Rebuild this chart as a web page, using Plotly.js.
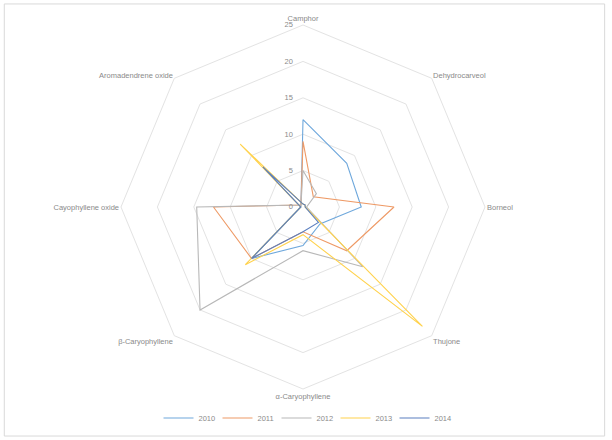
<!DOCTYPE html>
<html>
<head>
<meta charset="utf-8">
<script src="https://cdn.plot.ly/plotly-3.0.1.min.js"></script>
<style>
  html, body { margin: 0; padding: 0; background: #fff; }
  #chart { width: 612px; height: 440px; }
</style>
</head>
<body>
<div id="chart"></div>
<script>
const compounds = [
  "Camphor", "Dehydrocarveol", "Borneol", "Thujone",
  "α-Caryophyllene", "β-Caryophyllene", "Cayophyllene oxide", "Aromadendrene oxide"
];

const years = ["2010", "2011", "2012", "2013", "2014"];

const values2010 = [12, 8.5, 8, 3.3, 5.3, 10, 0.3, 0.4];
const values2011 = [9, 2, 12.5, 8.5, 3.4, 10, 12.3, 0.4];
const values2012 = [5, 2.6, 0.5, 11.6, 6, 20, 14.6, 0.4];
const values2013 = [0.4, 0.4, 0.3, 23.2, 3.8, 11.2, 0.3, 12.2];
const values2014 = [0.4, 0.4, 0.3, 3, 3.4, 10, 0.3, 7.8];

const radialTicks = [0, 5, 10, 15, 20, 25];

const seriesColors = ["#6fa8dc", "#ee9a66", "#b8b8b8", "#ffd24d", "#5b7fbf"];

const textColor = "#8a8a8a";
const gridColor = "#e3e3e3";

const allValues = [values2010, values2011, values2012, values2013, values2014];

const traces = allValues.map((vals, i) => ({
  type: "scatterpolar",
  mode: "lines",
  name: years[i],
  r: vals.concat([vals[0]]),
  theta: compounds.concat([compounds[0]]),
  line: { color: seriesColors[i], width: 1.1 },
  hoverinfo: "skip"
}));

const layout = {
  width: 612,
  height: 440,
  margin: { t: 0, r: 0, b: 0, l: 0 },
  paper_bgcolor: "#fff",
  font: { family: "Liberation Sans, Arial, sans-serif", size: 7, color: textColor },
  showlegend: true,
  legend: {
    orientation: "h",
    x: 0.5,
    xanchor: "center",
    y: 0.05,
    yanchor: "middle",
    entrywidth: 14,
    entrywidthmode: "pixels",
    font: { size: 7.5, color: textColor },
    bgcolor: "rgba(0,0,0,0)"
  },
  polar: {
    domain: { x: [0.1977, 0.7925], y: [0.1159, 0.9432] },
    gridshape: "linear",
    bgcolor: "rgba(0,0,0,0)",
    radialaxis: {
      range: [0, 25],
      tickvals: radialTicks,
      angle: 90,
      tickangle: 90,
      side: "counterclockwise",
      showline: false,
      ticks: "outside",
      ticklen: 7,
      tickcolor: "rgba(0,0,0,0)",
      gridcolor: gridColor,
      gridwidth: 1,
      tickfont: { size: 7.5, color: textColor }
    },
    angularaxis: {
      type: "category",
      categoryarray: compounds,
      direction: "clockwise",
      rotation: 90,
      showgrid: false,
      showline: true,
      linecolor: gridColor,
      linewidth: 1,
      ticks: "",
      tickfont: { size: 7.5, color: textColor }
    }
  },
  shapes: [{
    type: "rect",
    xref: "paper",
    yref: "paper",
    x0: 0.007,
    x1: 0.988,
    y0: 0.009,
    y1: 0.991,
    line: { color: "#d9d9d9", width: 1 }
  }]
};

Plotly.newPlot("chart", traces, layout, { displayModeBar: false, staticPlot: true });
</script>
</body>
</html>
